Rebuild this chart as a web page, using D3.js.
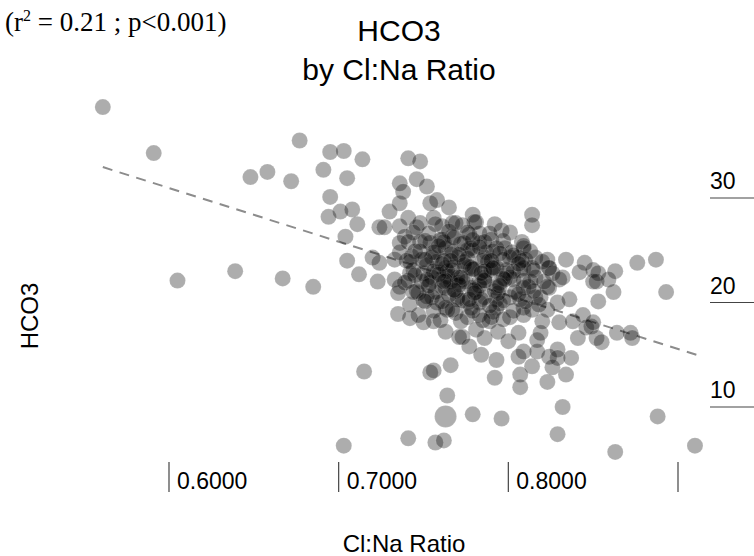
<!DOCTYPE html>
<html lang="en">
<head>
<meta charset="utf-8" />
<title>HCO3 by Cl:Na Ratio</title>
<script src="https://d3js.org/d3.v7.min.js"></script>
<style>
  body { margin: 0; background: #fff; }
  text { font-family: Helvetica, Arial, "Liberation Sans", sans-serif; fill: #000; }
  .note { font-family: "Times New Roman", "Liberation Serif", serif; }
</style>
</head>
<body>
<script>
// ---- data ----
var ratio = [
  0.561,0.591,0.605,0.639,0.667,0.685,0.648,0.658,0.672,0.677,0.695,0.703,0.714,0.691,0.705,0.695,0.694,0.701,0.708,0.711,
  0.704,0.705,0.712,0.720,0.724,0.723,0.741,0.748,0.736,0.746,0.752,0.738,0.736,0.758,0.754,0.765,0.730,0.727,0.741,0.736,
  0.746,0.756,0.761,0.767,0.739,0.736,0.748,0.754,0.761,0.767,0.724,0.733,0.736,0.743,0.749,0.758,0.766,0.733,0.736,0.742,
  0.750,0.758,0.764,0.754,0.761,0.768,0.770,
  0.779,0.780,0.814,0.814,0.796,0.777,0.773,0.790,0.783,0.798,0.809,0.776,0.787,0.806,0.810,0.823,0.834,0.845,0.824,0.814,
  0.842,0.850,0.826,0.777,0.791,0.799,0.807,0.830,0.813,0.823,0.850,0.783,0.795,0.803,0.773,
  0.876,0.887,0.863,0.853,0.852,0.859,0.862,0.893,0.853,0.849,0.852,0.855,0.864,0.872,0.873,
  0.776,0.783,0.793,0.807,0.819,0.829,0.836,0.823,0.830,0.820,0.838,0.844,0.846,0.850,0.841,0.776,0.783,0.789,0.801,0.809,
  0.814,0.781,0.786,0.794,0.800,0.806,0.819,0.817,0.773,0.777,0.784,0.793,0.806,0.809,0.817,0.814,0.824,0.829,0.829,0.837,
  0.826,0.834,0.792,0.807,0.807,0.823,0.832,0.779,0.796,0.829,
  0.888,0.863,0.910,
  0.715,0.754,0.756,0.766,0.764,0.741,0.757,0.762,0.703,0.735,0.742,0.735,0.742,0.747,0.750,0.756,0.763,0.771,0.758,0.764,
  0.752,0.770,
  0.763,0.778,0.793,0.809,0.755,0.770,0.786,0.801,0.816,0.763,0.778,0.793,0.809,0.824,0.755,0.770,0.786,0.801,0.816,0.832,
  0.763,0.778,0.793,0.809,0.824,0.755,0.770,0.786,0.801,0.816,0.763,0.778,0.793,0.809,
  0.757,0.772,0.788,0.799,0.766,0.781,0.795,0.769,0.752,0.749,0.747,0.760,0.783,0.803,0.812,0.818,0.790,0.776,0.764,0.786,
  // dense core, second layer
  0.748,0.757,0.769,0.781,0.792,
  0.744,0.753,0.765,0.776,0.789,0.801,
  0.741,0.751,0.762,0.774,0.786,0.797,0.808,
  0.745,0.756,0.767,0.779,0.791,0.802,0.813,
  0.740,0.751,0.762,0.774,0.785,0.797,0.808,0.820,
  0.744,0.756,0.767,0.780,0.790,0.803,0.815,
  0.741,0.752,0.763,0.775,0.786,0.798,0.809,0.821,
  0.746,0.757,0.769,0.780,0.792,0.804,0.815,
  0.750,0.761,0.773,0.784,0.797,0.810,
  0.756,0.767,0.779,0.791,0.803,
  0.760,0.772,0.785,0.797,
  // darkest centre
  0.759,0.771,0.783,0.795,0.806,0.761,0.774,0.786,0.797,0.759,
  0.771,0.783,0.794,0.806,0.765,0.777,0.789,0.753,0.768,0.779,
  0.742,0.745,0.739,0.748,0.744,0.751,0.766,0.779,0.790,0.772,
  0.784,0.795,0.768,0.780,0.791,0.762
];
var hco3 = [
  38.7,34.3,22.1,23.0,22.3,21.5,32.0,32.5,31.6,35.5,34.4,34.5,33.7,32.7,31.9,30.1,28.2,28.7,28.9,27.5,
  26.3,24.0,22.7,24.3,27.2,22.0,33.8,33.5,31.4,31.8,31.1,30.6,29.5,29.8,29.5,29.1,28.7,27.2,28.1,27.3,
  27.2,28.1,27.3,27.6,26.3,25.7,25.8,25.7,26.0,26.3,23.8,24.1,24.8,24.4,24.1,23.9,24.6,22.2,21.5,22.8,
  22.8,22.9,22.5,21.9,21.5,23.4,21.9,
  28.4,27.7,28.4,27.4,26.9,26.5,27.4,26.0,25.7,25.2,25.4,25.0,24.8,24.3,24.1,24.1,24.1,23.8,23.3,23.3,
  22.9,23.1,22.8,23.4,23.4,23.1,23.1,22.2,22.0,21.5,22.0,22.0,21.9,22.2,22.2,
  23.8,24.1,23.0,22.8,22.0,22.2,21.0,21.0,20.1,17.7,16.6,16.2,17.1,17.1,16.6,
  20.0,20.0,20.3,20.3,20.5,20.0,20.3,19.3,18.1,18.2,18.2,18.8,17.6,18.1,16.6,18.6,18.8,18.2,18.6,18.8,
  19.3,17.4,16.6,17.2,16.3,17.1,17.1,16.4,16.7,15.8,15.0,14.5,14.8,15.3,15.3,13.9,14.8,15.5,14.7,14.7,
  13.8,13.1,12.8,13.1,11.9,12.4,10.0,9.3,8.9,7.4,
  9.1,5.7,6.3,
  13.4,13.3,13.5,14.0,11.1,7.0,6.6,6.8,6.3,20.9,19.8,18.9,18.5,18.8,18.1,18.2,17.2,16.7,20.0,19.3,
  20.6,20.3,
  25.2,25.2,25.2,25.2,24.3,24.3,24.3,24.3,24.3,23.3,23.3,23.3,23.3,23.3,22.4,22.4,22.4,22.4,22.4,22.4,
  21.4,21.4,21.4,21.4,21.4,20.5,20.5,20.5,20.5,20.5,19.5,19.5,19.5,19.5,
  24.8,25.6,23.9,22.8,22.0,21.0,19.9,19.0,23.6,22.0,20.9,26.0,26.6,24.5,21.5,19.8,18.6,24.2,23.0,22.1,
  27.6,27.5,27.6,27.7,27.5,
  26.7,26.6,26.8,26.7,26.6,26.7,
  25.8,25.9,25.8,25.7,25.8,25.9,25.8,
  24.9,24.8,24.9,25.0,24.9,24.8,24.9,
  24.0,24.1,24.0,23.9,24.0,24.1,24.0,23.9,
  23.1,23.0,23.1,23.2,23.1,23.0,23.1,
  22.1,22.2,22.1,22.0,22.1,22.2,22.1,22.0,
  21.1,21.0,21.1,21.2,21.1,21.0,21.1,
  20.2,20.1,20.2,20.3,20.2,20.1,
  19.2,19.3,19.2,19.1,19.2,
  18.3,18.2,18.3,18.4,
  25.4,24.6,25.3,24.7,23.7,23.7,23.6,23.0,22.3,22.7,
  21.7,21.6,20.9,20.8,20.7,20.3,19.7,21.6,26.2,26.0,
  23.9,22.6,21.9,24.9,21.0,20.1,24.0,23.2,24.0,22.4,
  22.8,21.6,21.2,20.9,23.3,22.0
];
// one larger marker
var bigRatio = [0.763];
var bigHco3 = [9.1];

// fitted line end points
var fitRatio = [0.561, 0.911];
var fitHco3 = [32.96, 14.99];

var xTicks = [0.6, 0.7, 0.8, 0.9];
var xTickLabels = ["0.6000", "0.7000", "0.8000", ""];
var yTicks = [10, 20, 30];

var W = 754, H = 556;
var svg = d3.select("body").append("svg")
    .attr("width", W).attr("height", H);

var x = d3.scaleLinear().domain([0.6, 0.9]).range([169, 678]);
var y = d3.scaleLinear().domain([10, 30]).range([407, 198]);

// fitted dashed line
svg.append("line")
    .attr("x1", x(fitRatio[0])).attr("y1", y(fitHco3[0]))
    .attr("x2", x(fitRatio[1])).attr("y2", y(fitHco3[1]))
    .attr("stroke", "#8c8c8c")
    .attr("stroke-width", 2)
    .attr("stroke-dasharray", "10,7.5");

// points
var pts = d3.range(ratio.length).map(function (i) { return { x: ratio[i], y: hco3[i], r: 8 }; });
bigRatio.forEach(function (d, i) { pts.push({ x: d, y: bigHco3[i], r: 11 }); });

svg.append("g")
    .selectAll("circle")
    .data(pts)
    .enter().append("circle")
    .attr("cx", function (d) { return x(d.x); })
    .attr("cy", function (d) { return y(d.y); })
    .attr("r", function (d) { return d.r; })
    .attr("fill", "#000")
    .attr("fill-opacity", 0.32)
    .attr("stroke", "#fff")
    .attr("stroke-opacity", 0.2)
    .attr("stroke-width", 0.6);

// x ticks
var xt = svg.append("g");
xt.selectAll("line").data(xTicks).enter().append("line")
    .attr("x1", function (d) { return x(d); }).attr("x2", function (d) { return x(d); })
    .attr("y1", 462).attr("y2", 492)
    .attr("stroke", "#444").attr("stroke-width", 1.2);
xt.selectAll("text").data(xTicks).enter().append("text")
    .attr("x", function (d) { return x(d) + 8; })
    .attr("y", 489)
    .style("font-size", "23px")
    .text(function (d, i) { return xTickLabels[i]; });

// y ticks (right side)
var yt = svg.append("g");
yt.selectAll("line").data(yTicks).enter().append("line")
    .attr("x1", 710).attr("x2", 754)
    .attr("y1", function (d) { return y(d); }).attr("y2", function (d) { return y(d); })
    .attr("stroke", "#444").attr("stroke-width", 1.2);
yt.selectAll("text").data(yTicks).enter().append("text")
    .attr("x", 710)
    .attr("y", function (d) { return y(d) - 9; })
    .style("font-size", "23px")
    .text(function (d) { return d; });

// titles
svg.append("text").attr("x", 399).attr("y", 41).attr("text-anchor", "middle")
    .style("font-size", "30px").text("HCO3");
svg.append("text").attr("x", 399).attr("y", 80).attr("text-anchor", "middle")
    .style("font-size", "30px").text("by Cl:Na Ratio");

svg.append("text").attr("x", 404).attr("y", 552).attr("text-anchor", "middle")
    .style("font-size", "24px").text("Cl:Na Ratio");
svg.append("text")
    .attr("transform", "translate(38,316) rotate(-90)")
    .attr("text-anchor", "middle")
    .style("font-size", "24px").text("HCO3");

// fit statistics
var note = svg.append("text").attr("class", "note").attr("x", 5).attr("y", 31)
    .style("font-size", "27px");
note.append("tspan").text("(r");
note.append("tspan").attr("dy", -10).style("font-size", "16px").text("2");
note.append("tspan").attr("dy", 10).text(" = 0.21 ; p<0.001)");
</script>
</body>
</html>
